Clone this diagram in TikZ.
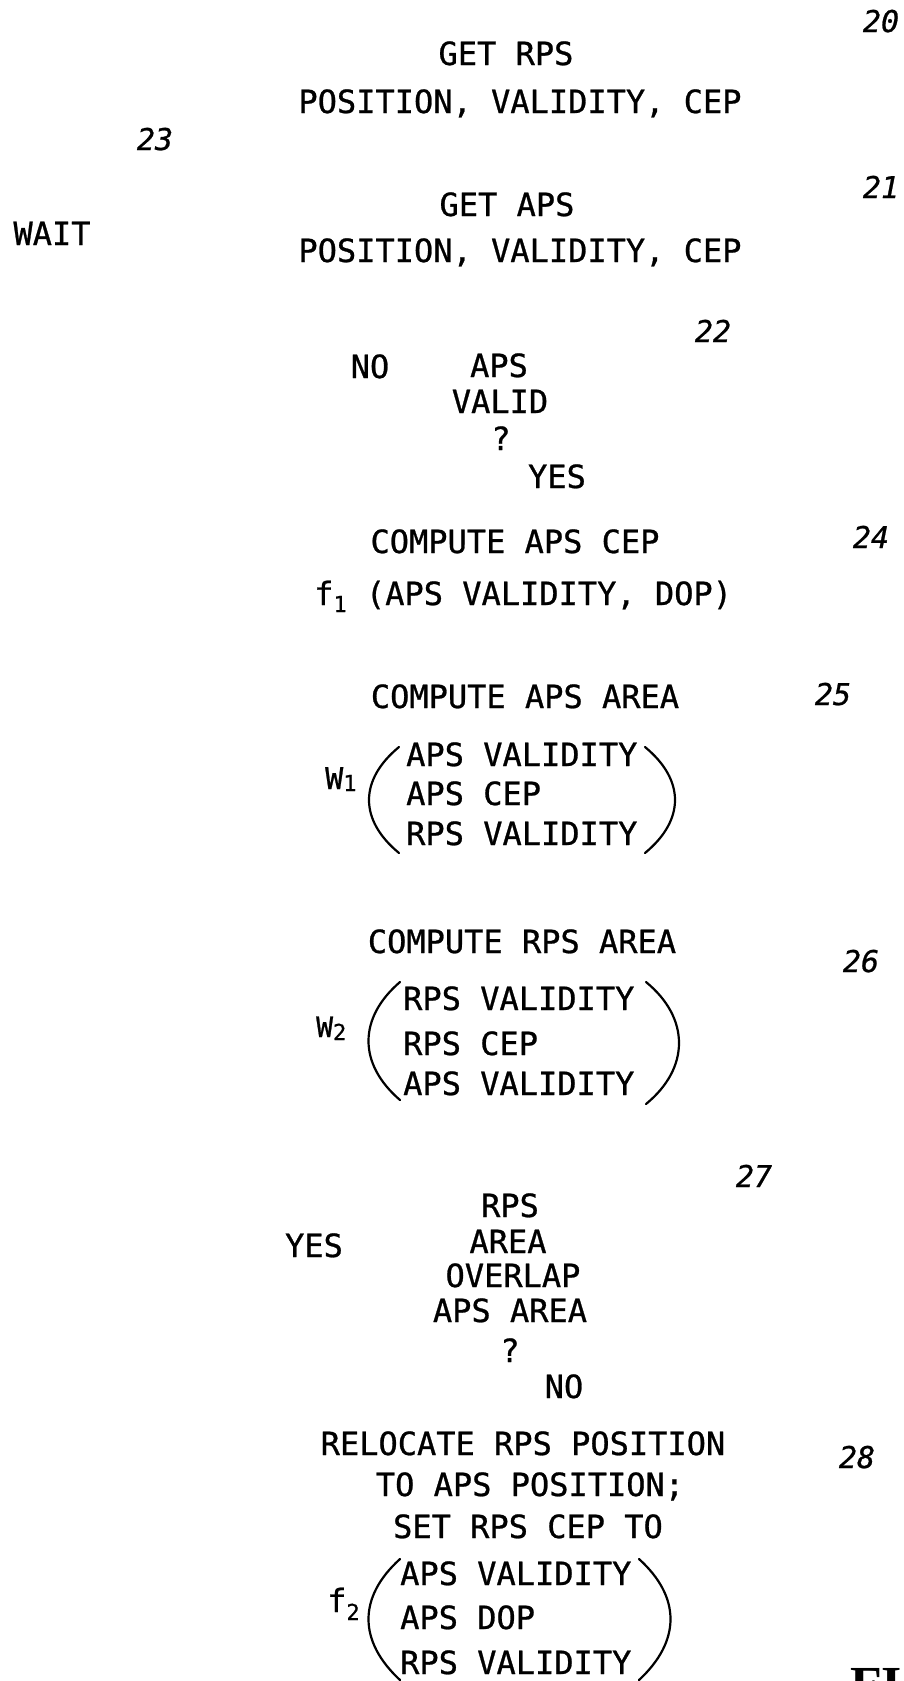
\documentclass[tikz,border=0pt]{standalone}
\usepackage{fontspec}
\newfontfamily\plotfont[FakeBold=0.8]{DejaVu Sans Mono}
\newfontfamily\figfont{Liberation Serif}
\newcommand\mainfnt{\plotfont\fontsize{32}{38}\selectfont}
\newcommand\numfnt{\plotfont\itshape\fontsize{30}{34}\selectfont}
\newcommand\sbs[2]{\raisebox{#1}{\fontsize{22}{26}\selectfont #2}}
\tikzset{
  txt/.style={font=\mainfnt, inner sep=0pt, anchor=base},
  ltxt/.style={font=\mainfnt, inner sep=0pt, anchor=base west},
  num/.style={font=\numfnt, inner sep=0pt, anchor=base},
  paren/.style={line width=2.2pt, line cap=round}
}
\begin{document}
\begin{tikzpicture}[x=1pt,y=-1pt]
\clip (0,0) rectangle (903,1681);
\fill[white] (0,0) rectangle (903,1681);

% reference numerals
\node[num] (n20) at (881,32) {20};
\node[num] (n23) at (155,150) {23};
\node[num] (n21) at (881,198) {21};
\node[num] (n22) at (713,342) {22};
\node[num] (n24) at (871,548) {24};
\node[num] (n25) at (833,705) {25};
\node[num] (n26) at (861,972) {26};
\node[num] (n27) at (754,1187) {27};
\node[num] (n28) at (857,1468) {28};

% step 20
\node[txt] (s20a) at (506,65) {GET RPS};
\node[txt] (s20b) at (520,113) {POSITION, VALIDITY, CEP};
% step 21
\node[txt] (s21a) at (507,216) {GET APS};
\node[txt] (s21b) at (520,262) {POSITION, VALIDITY, CEP};
% wait 23
\node[txt] (wait) at (52,245) {WAIT};
% decision 22
\node[txt] (no22) at (370,378) {NO};
\node[txt] (d22a) at (499,377) {APS};
\node[txt] (d22b) at (500,413) {VALID};
\node[txt] (d22c) at (501,450) {?};
\node[txt] (yes22) at (557,488) {YES};
% step 24
\node[txt] (s24a) at (515,553) {COMPUTE APS CEP};
\node[ltxt] (s24b) at (314,605) {f\sbs{-7pt}{1} (APS VALIDITY, DOP)};
% step 25
\node[txt] (s25a) at (525,708) {COMPUTE APS AREA};
\node[ltxt,font=\plotfont\fontsize{30}{34}\selectfont] (w1) at (325,789) {W\sbs{-2pt}{1}};
\node[ltxt] (w1a) at (406,766) {APS VALIDITY};
\node[ltxt] (w1b) at (406,805) {APS CEP};
\node[ltxt] (w1c) at (406,845) {RPS VALIDITY};
\draw[paren] (399,747) .. controls (359,780) and (359,820) .. (399,853);
\draw[paren] (645,747) .. controls (685,780) and (685,820) .. (645,853);
% step 26
\node[txt] (s26a) at (522,953) {COMPUTE RPS AREA};
\node[ltxt,font=\plotfont\fontsize{28}{32}\selectfont] (w2) at (316,1037) {W\sbs{-3pt}{2}};
\node[ltxt] (w2a) at (403,1010) {RPS VALIDITY};
\node[ltxt] (w2b) at (403,1055) {RPS CEP};
\node[ltxt] (w2c) at (403,1095) {APS VALIDITY};
\draw[paren] (400,982) .. controls (358,1018) and (358,1064) .. (400,1100);
\draw[paren] (646,982) .. controls (690,1018) and (690,1068) .. (646,1104);
% decision 27
\node[txt] (yes27) at (314,1257) {YES};
\node[txt] (d27a) at (510,1217) {RPS};
\node[txt] (d27b) at (508,1253) {AREA};
\node[txt] (d27c) at (513,1287) {OVERLAP};
\node[txt] (d27d) at (510,1322) {APS AREA};
\node[txt] (d27e) at (510,1362) {?};
\node[txt] (no27) at (564,1398) {NO};
% step 28
\node[txt] (s28a) at (523,1455) {RELOCATE RPS POSITION};
\node[txt] (s28b) at (530,1496) {TO APS POSITION;};
\node[txt] (s28c) at (528,1538) {SET RPS CEP TO};
\node[ltxt] (f2) at (327,1612) {f\sbs{-8pt}{2}};
\node[ltxt] (f2a) at (400,1585) {APS VALIDITY};
\node[ltxt] (f2b) at (400,1629) {APS DOP};
\node[ltxt] (f2c) at (400,1674) {RPS VALIDITY};
\draw[paren] (400,1559) .. controls (358,1597) and (358,1641) .. (400,1680);
\draw[paren] (639,1559) .. controls (681,1597) and (681,1641) .. (639,1680);

% figure label (cut off at page edge, as in the reference)
\node[font=\figfont\bfseries\fontsize{52}{60}\selectfont, inner sep=0pt, anchor=north west] (fig) at (850,1668) {FIG};
\end{tikzpicture}
\end{document}
